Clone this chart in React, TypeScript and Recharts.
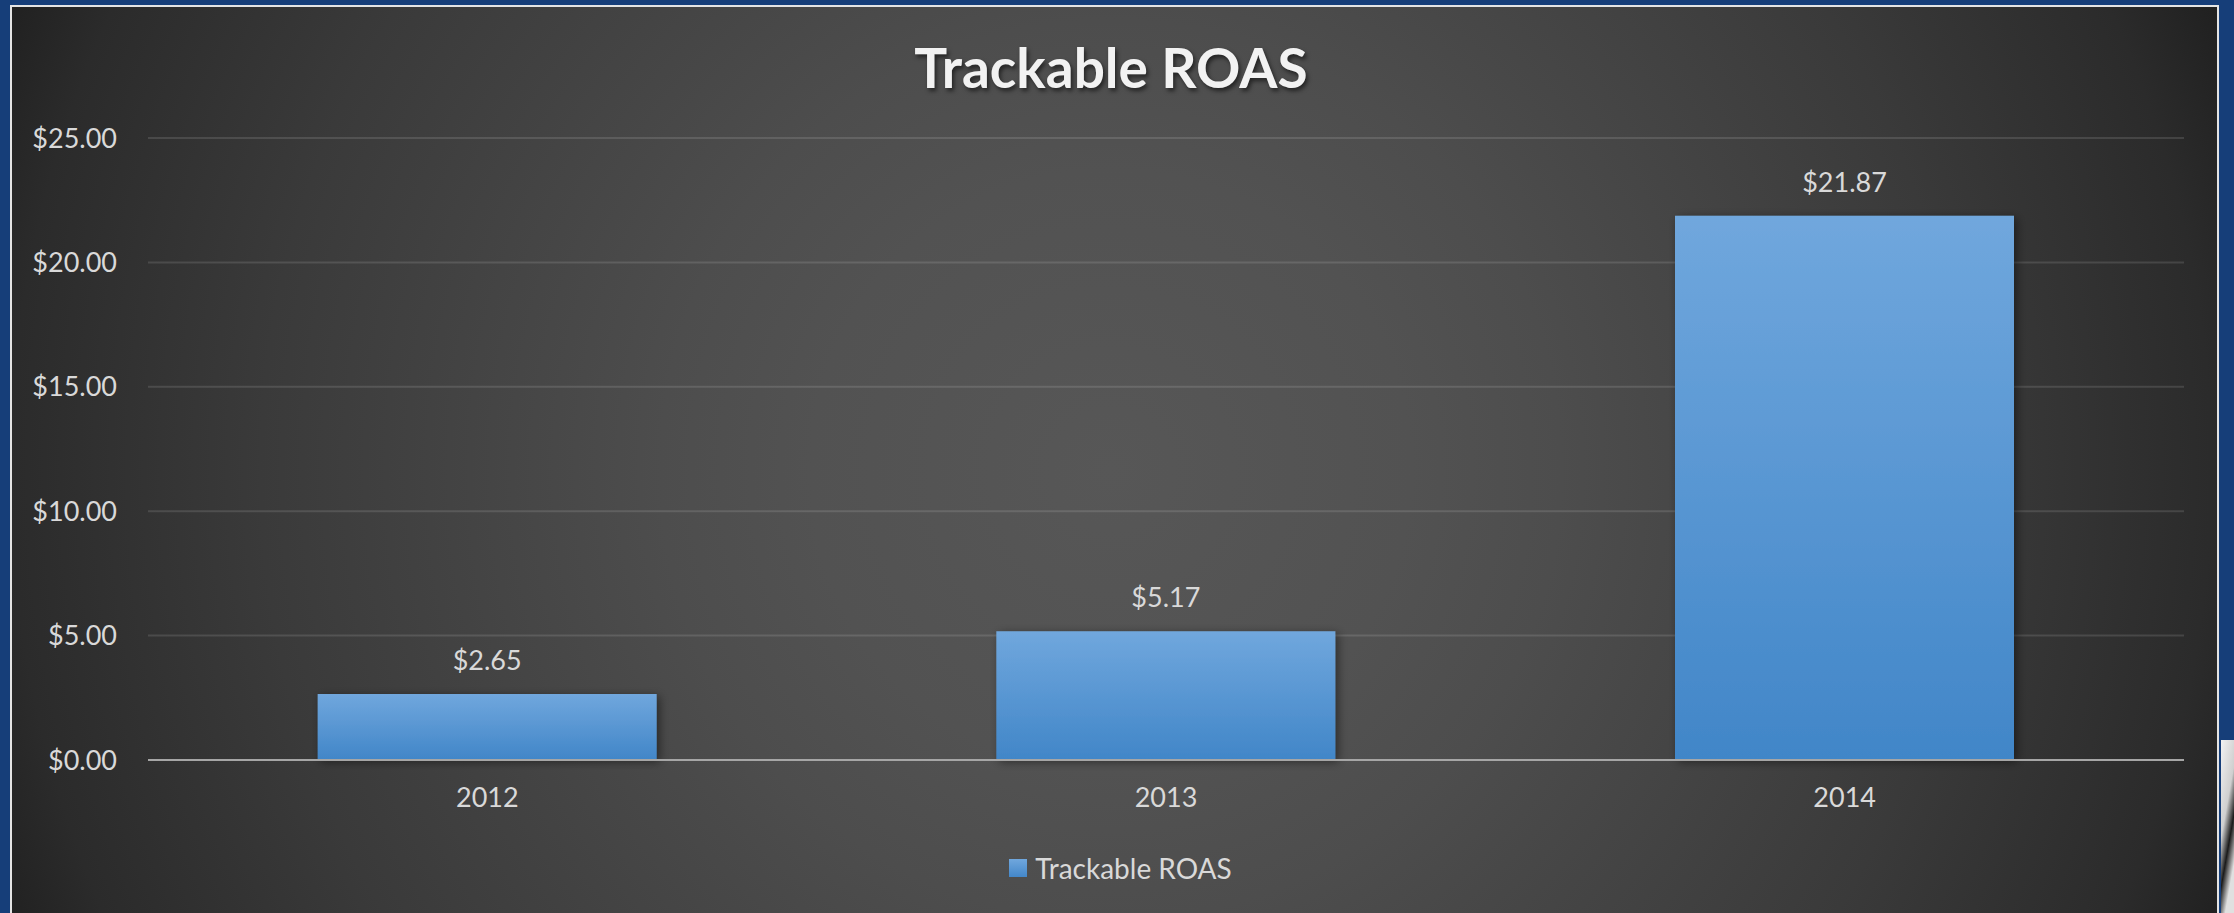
import React from "react";
import { BarChart, Bar, XAxis, YAxis, CartesianGrid, Legend, LabelList } from "recharts";

const chartTitle = "Trackable ROAS";
const seriesName = "Trackable ROAS";
const years = ["2012", "2013", "2014"];
const roas = [2.65, 5.17, 21.87];
const yTicks = [0, 5, 10, 15, 20, 25];

const data = years.map((year, i) => ({ year, roas: roas[i] }));

const money = (v: number) => `$${Number(v).toFixed(2)}`;

const FONT = "Lato, 'Open Sans', sans-serif";
const TEXT = "#d9d9d9";

const LegendBox = () => (
  <div
    style={{
      display: "flex",
      justifyContent: "center",
      alignItems: "center",
      height: 30,
      fontFamily: FONT,
      fontSize: 28,
      color: TEXT,
    }}
  >
    <span
      style={{
        display: "inline-block",
        width: 18,
        height: 18,
        marginRight: 8,
        background: "linear-gradient(#70a7dd, #4387c9)",
      }}
    />
    <span>{seriesName}</span>
  </div>
);

export default function App() {
  return (
    <div
      style={{
        position: "absolute",
        left: 0,
        top: 0,
        width: 2234,
        height: 913,
        overflow: "hidden",
        background: "#163e79",
      }}
    >
      {/* bit of a photo peeking in at the lower right */}
      <div
        style={{
          position: "absolute",
          left: 2221,
          top: 740,
          width: 13,
          height: 173,
          background: "linear-gradient(100deg, #f2f2f2 0%, #cfcfcf 40%, #1a1a1a 60%, #e0e0e0 80%)",
        }}
      />
      <div
        style={{
          position: "absolute",
          left: 10,
          top: 5,
          width: 2209,
          height: 912,
          boxSizing: "border-box",
          border: "2px solid #e4e4e4",
          background:
            "radial-gradient(circle at 1099px 463px, #575757 0px, #525252 300px, #4d4d4d 450px, #454545 620px, #3a3a3a 850px, #2b2b2b 1100px, #1e1e1e 1220px)",
        }}
      >
        <div
          style={{
            position: "absolute",
            left: 0,
            top: 30,
            width: 2198,
            textAlign: "center",
            fontFamily: FONT,
            fontWeight: 700,
            fontSize: 55,
            lineHeight: "60px",
            color: "#f2f2f2",
            textShadow: "2px 3px 4px rgba(0,0,0,0.55)",
          }}
        >
          {chartTitle}
        </div>
        <BarChart
          width={2205}
          height={906}
          data={data}
          margin={{ top: 131, right: 33, left: 16, bottom: 63 }}
          barCategoryGap="25%"
          style={{ position: "absolute", left: 0, top: 0 }}
        >
          <defs>
            <linearGradient id="barFill" x1="0" y1="0" x2="0" y2="1">
              <stop offset="0%" stopColor="#70a7dd" />
              <stop offset="100%" stopColor="#4186c8" />
            </linearGradient>
            <filter id="barShadow" x="-10%" y="-10%" width="125%" height="125%">
              <feDropShadow dx="3" dy="2" stdDeviation="5" floodColor="#000" floodOpacity="0.45" />
            </filter>
          </defs>
          <CartesianGrid vertical={false} stroke="rgba(255,255,255,0.12)" strokeWidth={2} />
          <XAxis
            dataKey="year"
            height={60}
            axisLine={{ stroke: "#a6a6a6", strokeWidth: 2 }}
            tickLine={false}
            tickSize={0}
            tickMargin={28}
            tick={{ fill: TEXT, fontFamily: FONT, fontSize: 27 }}
          />
          <YAxis
            width={120}
            domain={[0, 25]}
            ticks={yTicks}
            tickFormatter={money}
            axisLine={false}
            tickLine={false}
            tickSize={0}
            tickMargin={31}
            tick={{ fill: TEXT, fontFamily: FONT, fontSize: 27 }}
          />
          <Legend
            verticalAlign="bottom"
            height={30}
            content={() => <LegendBox />}
            wrapperStyle={{ top: 846, bottom: "auto", left: 6, width: 2205 }}
          />
          <Bar
            dataKey="roas"
            name={seriesName}
            fill="url(#barFill)"
            filter="url(#barShadow)"
            isAnimationActive={false}
          >
            <LabelList
              dataKey="roas"
              position="top"
              offset={24}
              formatter={(v: any) => money(v)}
              fill={TEXT}
              style={{ fontFamily: FONT, fontSize: 27 }}
            />
          </Bar>
        </BarChart>
      </div>
    </div>
  );
}
